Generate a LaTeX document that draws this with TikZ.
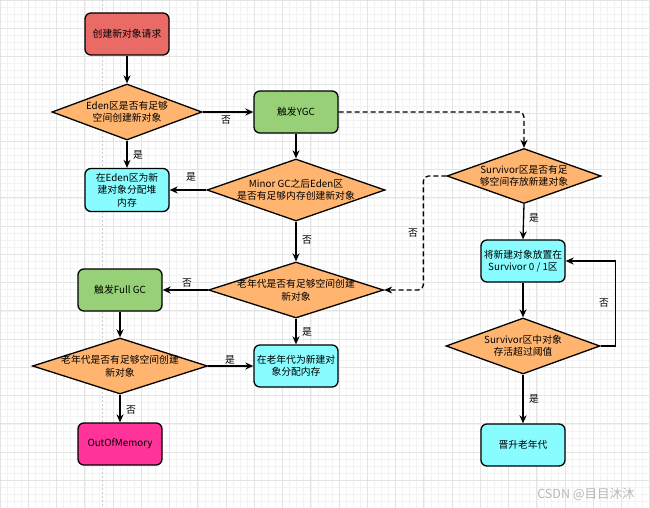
\documentclass[tikz,border=0pt]{standalone}
\usepackage{fontspec}
\setmainfont{Noto Sans CJK SC}
\usetikzlibrary{shapes.geometric,arrows.meta}
\definecolor{cred}{HTML}{EA6B66}
\definecolor{corange}{HTML}{FFB570}
\definecolor{cgreen}{HTML}{97D077}
\definecolor{ccyan}{HTML}{88FCFF}
\definecolor{cpink}{HTML}{FF3399}
\definecolor{gridminor}{HTML}{F3F3F3}
\definecolor{gridmajor}{HTML}{E4E4E4}
\tikzset{
  box/.style={draw=black, line width=1.3pt, rounded corners=6pt, minimum width=84pt, minimum height=42pt, align=center, inner sep=1pt, font=\fontsize{9.8}{12.5}\selectfont},
  dia/.style={draw=black, line width=1.3pt, diamond, fill=corange, inner sep=0pt},
  txt/.style={align=center, font=\fontsize{9.8}{12.5}\selectfont},
  lab/.style={font=\fontsize{9.8}{12}\selectfont, inner sep=1pt},
  arr/.style={line width=1.3pt, -{Stealth[length=8pt,width=7pt,inset=2.5pt]}},
  dsh/.style={dash pattern=on 5pt off 3pt},
}
\begin{document}
\begin{tikzpicture}[x=1pt,y=-1pt]
\useasboundingbox (0,0) rectangle (650,508);
\fill[white] (0,0) rectangle (650,508);
% grid
\foreach \i in {0,...,92} {
  \draw[gridminor, line width=0.5pt] ({\i*7.0625},0) -- ({\i*7.0625},508);
}
\foreach \i in {0,...,72} {
  \draw[gridminor, line width=0.5pt] (0,{\i*7.0625}) -- (650,{\i*7.0625});
}
\foreach \i in {0,...,23} {
  \draw[gridmajor, line width=0.6pt] ({\i*28.25},0) -- ({\i*28.25},508);
}
\foreach \i in {0,...,18} {
  \draw[gridmajor, line width=0.6pt] (0,{\i*28.25}) -- (650,{\i*28.25});
}
\draw[gray!40, line width=0.6pt, dash pattern=on 2pt off 2pt] (102,0) -- (102,508);

% nodes
\node[box, fill=cred] (start) at (127,34) {创建新对象请求};
\node[dia, minimum width=150pt, minimum height=56pt] (d1) at (127,112) {};
\node[txt] at (d1) {Eden区是否有足够\\空间创建新对象};
\node[box, fill=cgreen] (ygc) at (296,112) {触发YGC};
\node[box, fill=ccyan, minimum height=43pt] (eden) at (127,190) {在Eden区为新\\建对象分配堆\\内存};
\node[dia, minimum width=178pt, minimum height=62pt] (d2) at (296,190) {};
\node[txt] at (d2) {Minor GC之后Eden区\\是否有足够内存创建新对象};
\node[dia, minimum width=175pt, minimum height=56pt] (d3) at (296,290) {};
\node[txt] at (d3) {老年代是否有足够空间创建\\新对象};
\node[box, fill=cgreen] (fgc) at (120,290) {触发Full GC};
\node[dia, minimum width=175pt, minimum height=56pt] (d4) at (120,366) {};
\node[txt] at (d4) {老年代是否有足够空间创建\\新对象};
\node[box, fill=ccyan] (old) at (296,366) {在老年代为新建对\\象分配内存};
\node[box, fill=cpink] (oom) at (120,444) {OutOfMemory};
\node[dia, minimum width=154pt, minimum height=55pt] (s1) at (524,176) {};
\node[txt] at (s1) {Survivor区是否有足\\够空间存放新建对象};
\node[box, fill=ccyan] (surv) at (523,261) {将新建对象放置在\\Survivor 0 / 1区};
\node[dia, minimum width=154pt, minimum height=56pt] (s2) at (523,346) {};
\node[txt] at (s2) {Survivor区中对象\\存活超过阈值};
\node[box, fill=ccyan] (prom) at (523,445) {晋升老年代};

% edges
\draw[arr] (start) -- (d1);
\draw[arr] (d1.east) -- (ygc.west);
\draw[arr] (d1.south) -- (eden.north);
\draw[arr] (ygc) -- (d2.north);
\draw[arr] (d2.west) -- (eden.east);
\draw[arr] (d2.south) -- (d3.north);
\draw[arr, dsh, rounded corners=5pt] (ygc.east) -| (s1.north);
\draw[arr, dsh, rounded corners=5pt] (s1.west) -- ++(-23,0) |- (d3.east);
\draw[arr] (s1.south) -- (surv.north);
\draw[arr] (d3.west) -- (fgc.east);
\draw[arr] (d3.south) -- (old.north);
\draw[arr] (fgc) -- (d4.north);
\draw[arr] (d4.east) -- (old.west);
\draw[arr] (d4.south) -- (oom.north);
\draw[arr] (surv) -- (s2.north);
\draw[arr] (s2.east) -- ++(15,0) |- (surv.east);
\draw[arr] (s2.south) -- (prom.north);

% labels
\node[lab] (l1) at (226,120) {否};
\node[lab] (l2) at (138,155) {是};
\node[lab] (l3) at (191,177) {是};
\node[lab] (l4) at (307,240) {否};
\node[lab] (l5) at (413,233) {否};
\node[lab] (l6) at (534,218) {是};
\node[lab] (l7) at (187,283) {否};
\node[lab] (l8) at (307,332) {是};
\node[lab] (l9) at (230,360) {是};
\node[lab] (l10) at (131,410) {否};
\node[lab] (l11) at (604,303) {否};
\node[lab] (l12) at (534,399) {是};
\node[font=\fontsize{12.5}{14}\selectfont, text=gray!55] (wm) at (586,494) {CSDN @目目沐沐};
\end{tikzpicture}
\end{document}
